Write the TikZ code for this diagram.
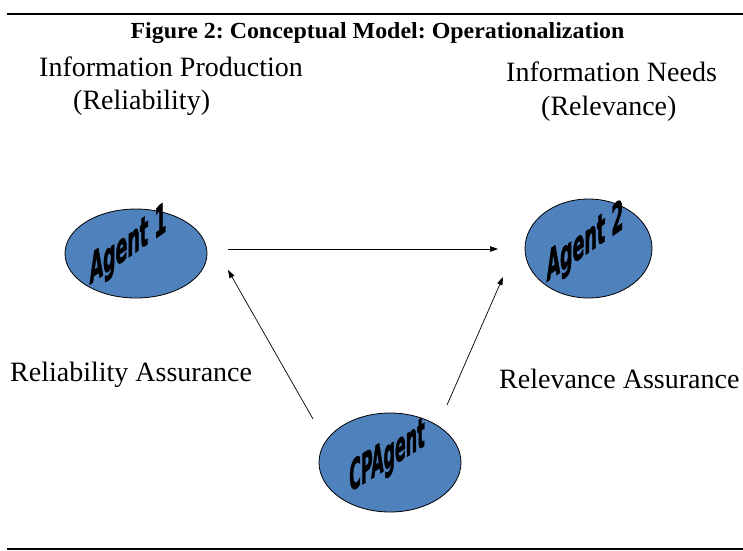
\documentclass[tikz,border=0pt]{standalone}
\usepackage{fontspec}
\setmainfont{Liberation Serif}
\setsansfont{Liberation Sans}
\newfontfamily\agentfont{DejaVu Sans}[BoldFeatures={FakeBold=2}]
\usetikzlibrary{shapes.geometric,arrows.meta}
\definecolor{agentblue}{RGB}{79,129,189}
\frenchspacing
\begin{document}
\begin{tikzpicture}[x=1pt,y=-1pt,
  agent/.style={ellipse, draw=black, line width=0.8pt, fill=agentblue, inner sep=0pt},
  agentlabel/.style={font=\agentfont\bfseries\fontsize{38}{42}\selectfont, inner sep=0pt},
  body/.style={font=\fontsize{28}{32}\selectfont, inner sep=0pt, anchor=base west},
  conn/.style={-{Triangle[length=8pt,width=5.5pt]}, line width=0.7pt},
  rulestyle/.style={line width=2pt}]
\useasboundingbox (0,0) rectangle (743,550);
% rules
\coordinate (tl) at (7,14);
\coordinate (tr) at (743,14);
\coordinate (bl) at (7,549);
\coordinate (br) at (743,549);
\draw[rulestyle] (tl) -- (tr);
\draw[rulestyle] (bl) -- (br);
% title
\node[font=\bfseries\fontsize{23}{27}\selectfont, inner sep=0pt, anchor=base, xscale=1.04] (title) at (377.5,38) {Figure 2: Conceptual Model: Operationalization};
% headings
\node[body] (prod) at (39,76) {Information Production};
\node[body] (rel) at (73,109) {(Reliability)};
\node[body] (needs) at (506,81) {Information Needs};
\node[body] (relev) at (541,115) {(Relevance)};
\node[body] (relassur) at (10,381) {Reliability Assurance};
\node[body] (relevassur) at (499,388) {Relevance Assurance};
% agents
\node[agent, minimum width=142pt, minimum height=89pt] (a1) at (136,253.5) {};
\node[agent, minimum width=127pt, minimum height=99pt] (a2) at (588.5,248.5) {};
\node[agent, minimum width=142pt, minimum height=99pt] (cp) at (390,462.5) {};
\node[agentlabel, yslant=0.7, xscale=0.46, yscale=1.1] (a1t) at (128,247) {Agent 1};
\node[agentlabel, yslant=0.7, xscale=0.46, yscale=1.1] (a2t) at (585,244) {Agent 2};
\node[agentlabel, yslant=0.62, xscale=0.42, yscale=1.1] (cpt) at (387,458) {CPAgent};
% connectors
\coordinate (h1) at (228,249);
\coordinate (h2) at (498,249);
\coordinate (l1) at (313,419);
\coordinate (l2) at (228,270);
\coordinate (r1) at (447,405);
\coordinate (r2) at (503,277);
\draw[conn] (h1) -- (h2);
\draw[conn] (l1) -- (l2);
\draw[conn] (r1) -- (r2);
\end{tikzpicture}
\end{document}
